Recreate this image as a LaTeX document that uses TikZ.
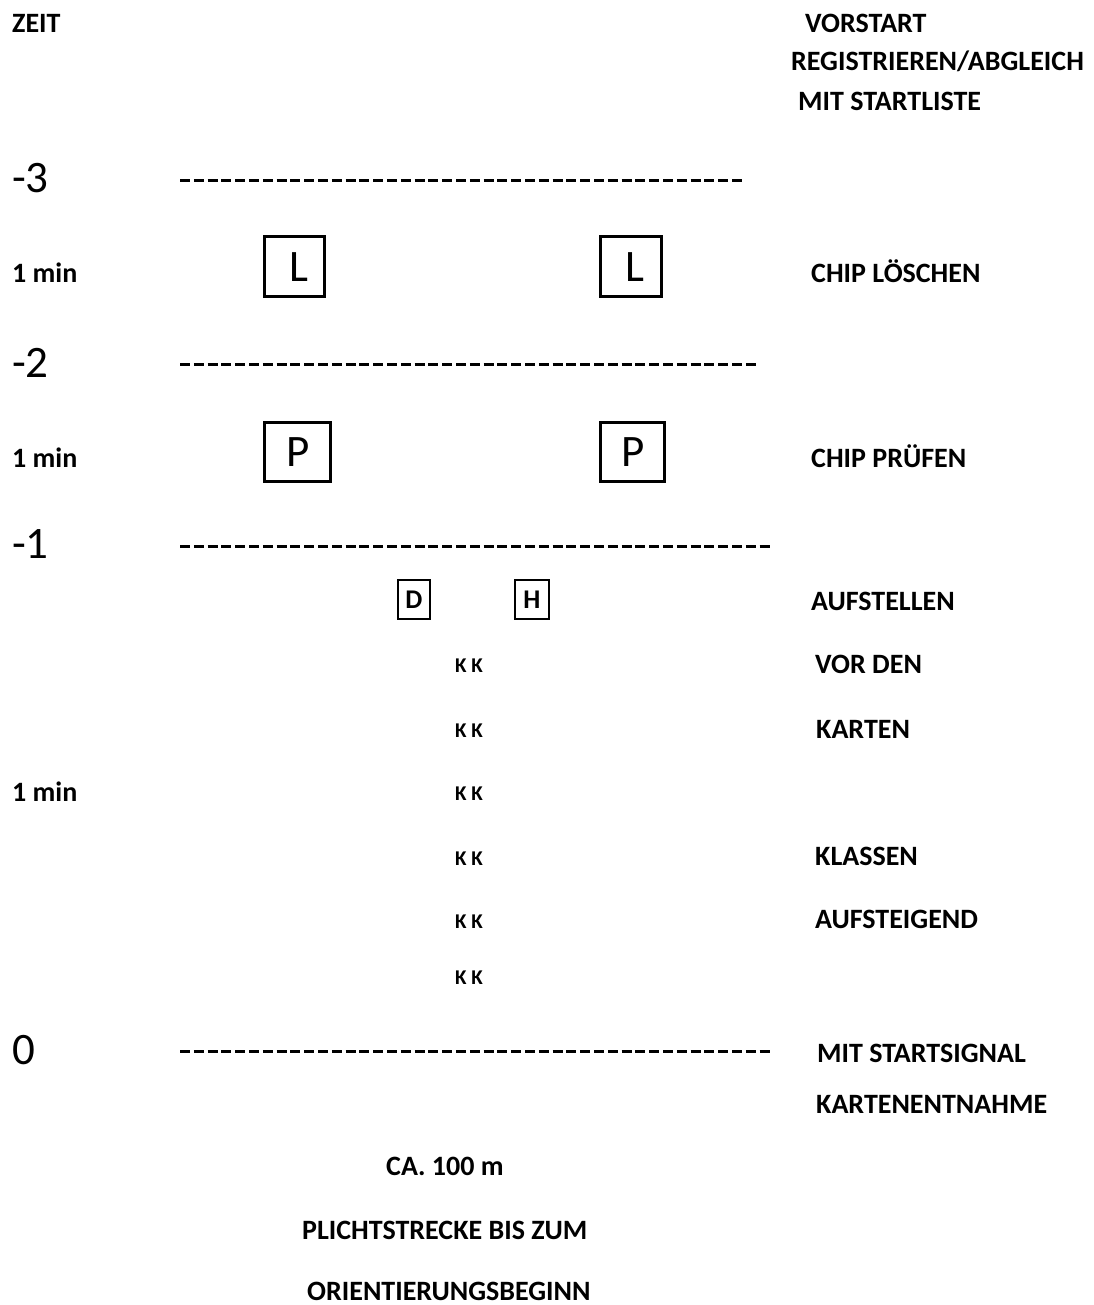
\documentclass[tikz,border=0pt]{standalone}
\usepackage{fontspec}
\setmainfont{Carlito}
\begin{document}
\begin{tikzpicture}[x=1pt,y=-1pt,
  txt/.style={anchor=base west, inner sep=0pt, text depth=0pt, font=\fontsize{28}{32}\selectfont\bfseries},
  big/.style={anchor=base west, inner sep=0pt, text depth=0pt, font=\fontsize{45}{50}\selectfont},
  bigbox/.style={draw, line width=3pt, inner sep=0pt, text height=29pt, text depth=0pt, font=\fontsize{45}{50}\selectfont},
  smallbox/.style={draw, line width=2.8pt, inner sep=0pt, text height=17pt, text depth=0pt, font=\fontsize{27}{30}\selectfont\bfseries},
  kk/.style={anchor=base west, inner sep=0pt, text depth=0pt, font=\fontsize{21}{24}\selectfont\bfseries},
  dline/.style={line width=3pt, dash pattern=on 10pt off 3.8pt}]
\useasboundingbox (0,0) rectangle (1093,1305);
% header
\node[txt] (zeit) at (12,33) {ZEIT};
\node[txt] (vorstart) at (805,33) {VORSTART};
\node[txt] (reg) at (791,71) {REGISTRIEREN/ABGLEICH};
\node[txt] (mit) at (798,111) {MIT STARTLISTE};
% -3
\node[big] (m3) at (12,193) {-3};
\coordinate (l1a) at (180,181); \coordinate (l1b) at (743,181);
\draw[dline] (l1a) -- (l1b);
% L row
\node[txt] (min1) at (12,283) {1 min};
\node[bigbox, minimum width=60pt, minimum height=60pt] (L1) at (294,267) {\kern9pt L};
\node[bigbox, minimum width=61pt, minimum height=60pt] (L2) at (630.5,267) {\kern9pt L};
\node[txt] (chipl) at (811,283) {CHIP LÖSCHEN};
% -2
\node[big] (m2) at (12,377) {-2};
\coordinate (l2a) at (180,364); \coordinate (l2b) at (758,364);
\draw[dline] (l2a) -- (l2b);
% P row
\node[txt] (min2) at (12,467) {1 min};
\node[bigbox, minimum width=66pt, minimum height=59pt] (P1) at (297,451.5) {\kern3pt P};
\node[bigbox, minimum width=64pt, minimum height=59pt] (P2) at (632,451.5) {\kern3pt P};
\node[txt] (chipp) at (811,467) {CHIP PRÜFEN};
% -1
\node[big] (m1) at (12,558) {-1};
\coordinate (l3a) at (180,546); \coordinate (l3b) at (773,546);
\draw[dline] (l3a) -- (l3b);
% D H
\node[smallbox, minimum width=32pt, minimum height=39pt] (D) at (414,599.5) {D};
\node[smallbox, minimum width=34pt, minimum height=39pt] (H) at (532,599.5) {H};
\node[txt] (aufst) at (811,610) {AUFSTELLEN};
\node[txt] (vorden) at (815,673) {VOR DEN};
\node[txt] (karten) at (816,738) {KARTEN};
\node[txt] (min3) at (12,801) {1 min};
\node[txt] (klassen) at (815,865) {KLASSEN};
\node[txt] (aufsteig) at (815,928) {AUFSTEIGEND};
% K K
\node[kk] (k1) at (455,672) {K K};
\node[kk] (k2) at (455,737) {K K};
\node[kk] (k3) at (455,800) {K K};
\node[kk] (k4) at (455,865) {K K};
\node[kk] (k5) at (455,928) {K K};
\node[kk] (k6) at (455,984) {K K};
% 0
\node[big] (z0) at (12,1064) {0};
\coordinate (l4a) at (180,1051); \coordinate (l4b) at (773,1051);
\draw[dline] (l4a) -- (l4b);
\node[txt] (sig) at (817,1062) {MIT STARTSIGNAL};
\node[txt] (entn) at (816,1113) {KARTENENTNAHME};
% bottom
\node[txt] (ca) at (386,1175) {CA. 100 m};
\node[txt] (pl) at (302,1239) {PLICHTSTRECKE BIS ZUM};
\node[txt] (or) at (307,1300) {ORIENTIERUNGSBEGINN};
\end{tikzpicture}
\end{document}
